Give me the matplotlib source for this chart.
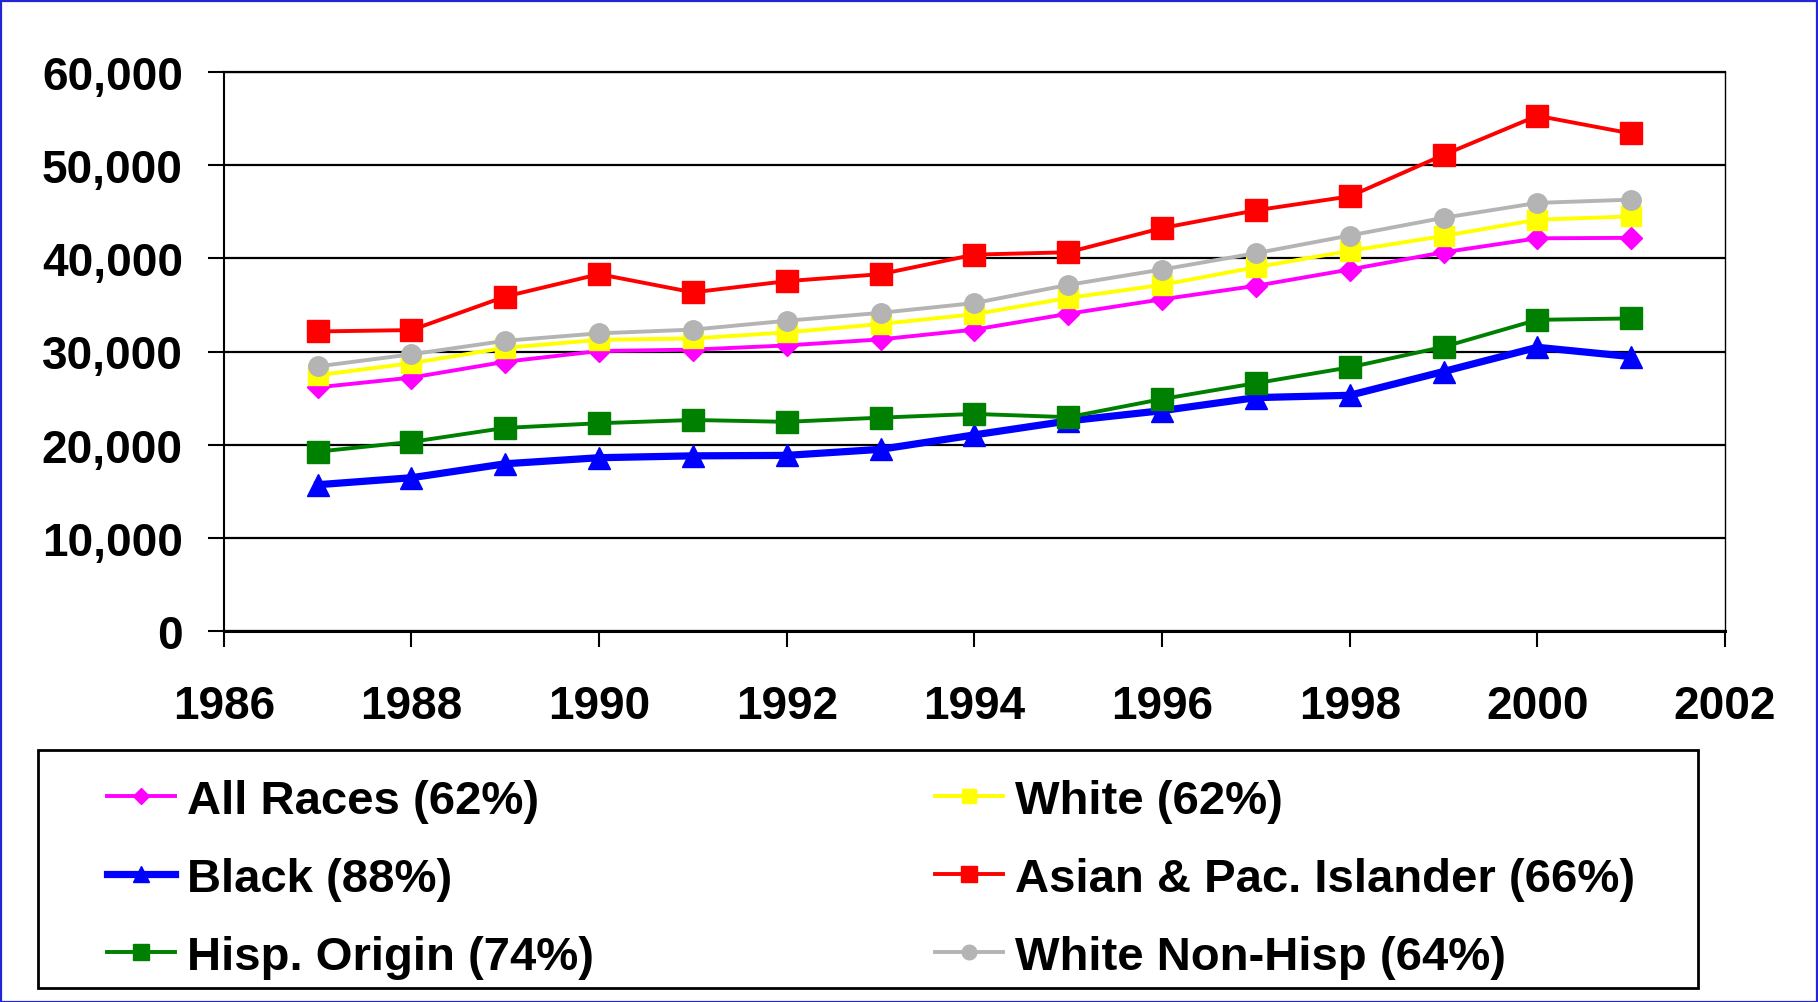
import matplotlib
matplotlib.use("Agg")
import matplotlib.pyplot as plt
from matplotlib.patches import Rectangle
from matplotlib.ticker import FuncFormatter

# ---- data ----
years = list(range(1987, 2002))
all_races = [26150, 27200, 28900, 30050, 30200, 30650, 31300, 32350, 34050, 35600, 37050, 38800, 40650, 42150, 42200]
white = [27450, 28750, 30400, 31250, 31400, 32050, 32950, 34000, 35750, 37150, 39050, 40800, 42400, 44150, 44500]
black = [15700, 16450, 17950, 18600, 18800, 18850, 19500, 21050, 22550, 23650, 25050, 25300, 27850, 30450, 29450]
asian = [32150, 32300, 35900, 38300, 36350, 37550, 38300, 40400, 40650, 43250, 45150, 46650, 51100, 55300, 53400]
hisp = [19250, 20300, 21800, 22300, 22650, 22450, 22900, 23300, 22950, 24900, 26600, 28300, 30500, 33400, 33550]
white_nh = [28400, 29700, 31150, 31950, 32350, 33300, 34150, 35200, 37150, 38800, 40550, 42450, 44350, 45950, 46300]

series = [all_races, white, black, asian, hisp, white_nh]
labels = ["All Races (62%)", "White (62%)", "Black (88%)",
          "Asian & Pac. Islander (66%)", "Hisp. Origin (74%)", "White Non-Hisp (64%)"]
colors = ["#FF00FF", "#FFFF00", "#0000FF", "#FF0000", "#008000", "#B4B4B4"]
markers = ["D", "s", "^", "s", "s", "o"]
x_ticks = [1986, 1988, 1990, 1992, 1994, 1996, 1998, 2000, 2002]
y_ticks = [0, 10000, 20000, 30000, 40000, 50000, 60000]

plt.rcParams['font.family'] = ['Liberation Sans', 'DejaVu Sans']
plt.rcParams['font.weight'] = 'bold'

W, H = 1818, 1003
fig = plt.figure(figsize=(W / 100, H / 100), dpi=100)
fig.patch.set_facecolor("white")

L, R, T, B = 223.8, 1725, 73, 632
ax = fig.add_axes([L / W, 1 - B / H, (R - L) / W, (B - T) / H])

msizes = [11.5, 14, 16, 15.5, 15.5, 14]
lwidths = [2.8, 2.8, 5.2, 2.8, 2.8, 2.8]
handles = []
for vals, lab, c, m, ms, lw in zip(series, labels, colors, markers, msizes, lwidths):
    h, = ax.plot(years, vals, color=c, marker=m, markersize=ms, linewidth=lw,
                 markerfacecolor=c, markeredgecolor=c, label=lab, clip_on=False)
    handles.append(h)

ax.set_xlim(x_ticks[0], x_ticks[-1])
ax.set_ylim(y_ticks[0], y_ticks[-1])
ax.set_xticks(x_ticks)
ax.set_yticks(y_ticks)
ax.yaxis.set_major_formatter(FuncFormatter(lambda v, p: f"{int(v):,}"))
ax.grid(axis="y", color="black", linewidth=1.6)
ax.set_axisbelow(True)
ax.tick_params(axis="both", direction="out", length=11.5, width=1.5, labelsize=33, colors="black")
ax.tick_params(axis="y", pad=18)
ax.tick_params(axis="x", pad=27)
for lab in ax.get_xticklabels() + ax.get_yticklabels():
    lab.set_fontweight("bold")
ax.spines["left"].set_linewidth(1.5)
ax.spines["right"].set_linewidth(1.0)
ax.spines["top"].set_linewidth(1.6)
ax.spines["bottom"].set_linewidth(2.2)

# legend box
lx0, lx1, ly0, ly1 = 38, 1698, 751, 989
fig.add_artist(Rectangle((lx0 / W, 1 - ly1 / H), (lx1 - lx0) / W, (ly1 - ly0) / H,
                         transform=fig.transFigure, fill=False, edgecolor="black", linewidth=2))
order = [0, 2, 4, 1, 3, 5]
leg = fig.legend([handles[i] for i in order], [labels[i] for i in order],
                 ncol=2, loc="center", mode="expand", frameon=False,
                 bbox_to_anchor=(107 / W, 1 - (ly1 + 10) / H, (1635 - 107) / W, (ly1 - ly0) / H),
                 bbox_transform=fig.transFigure, borderpad=0, borderaxespad=0,
                 handlelength=1.45, handletextpad=0.25, labelspacing=0.72,
                 markerscale=0.75, prop={"weight": "bold", "size": 34})

# outer blue border
fig.add_artist(Rectangle((0.5 / W, 0.5 / H), (W - 2) / W, (H - 2) / H,
                         transform=fig.transFigure, fill=False, edgecolor="#2525D8", linewidth=1.6))

fig.savefig("out.png", dpi=100)
